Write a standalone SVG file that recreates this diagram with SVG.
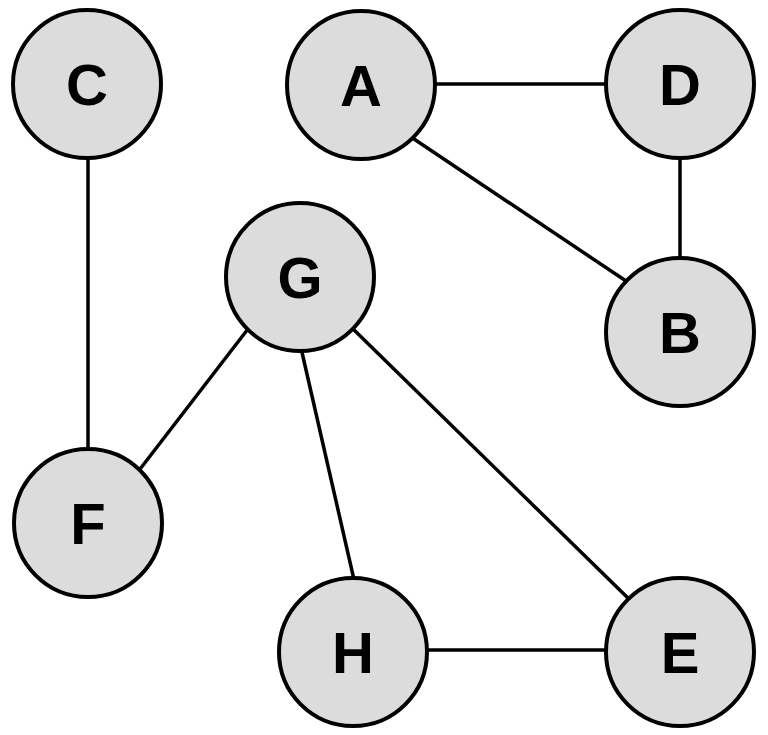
<svg xmlns="http://www.w3.org/2000/svg" width="768" height="735" viewBox="0 0 768 735">
<style>
.edge{stroke:#000;stroke-width:3.5;fill:none}
.node circle{fill:#dcdcdc;stroke:#000;stroke-width:4}
.node text{font-family:"Liberation Sans",Arial,sans-serif;font-weight:bold;font-size:58px;text-anchor:middle;fill:#000}
</style>
<rect width="768" height="735" fill="#fff"/>
<g id="edges">
<line class="edge" x1="88" y1="150" x2="88" y2="455"/>
<line class="edge" x1="426" y1="84" x2="614" y2="84"/>
<line class="edge" x1="408" y1="135" x2="632" y2="285"/>
<line class="edge" x1="680" y1="150" x2="680" y2="265"/>
<line class="edge" x1="251" y1="325" x2="137" y2="473"/>
<line class="edge" x1="301" y1="348" x2="355" y2="584"/>
<line class="edge" x1="350" y1="326" x2="632" y2="602"/>
<line class="edge" x1="422" y1="650" x2="613" y2="650"/>
</g>
<g id="node-C" class="node"><circle cx="87" cy="84" r="74"/><text x="87" y="105">C</text></g>
<g id="node-A" class="node"><circle cx="361" cy="85" r="74"/><text x="361" y="106">A</text></g>
<g id="node-D" class="node"><circle cx="680" cy="84" r="74"/><text x="680" y="105">D</text></g>
<g id="node-G" class="node"><circle cx="300" cy="277" r="74"/><text x="300" y="298">G</text></g>
<g id="node-B" class="node"><circle cx="680" cy="332" r="74"/><text x="680" y="353">B</text></g>
<g id="node-F" class="node"><circle cx="88" cy="523" r="74"/><text x="88" y="544">F</text></g>
<g id="node-H" class="node"><circle cx="353" cy="652" r="74"/><text x="353" y="673">H</text></g>
<g id="node-E" class="node"><circle cx="680" cy="652" r="74"/><text x="680" y="673">E</text></g>
</svg>
